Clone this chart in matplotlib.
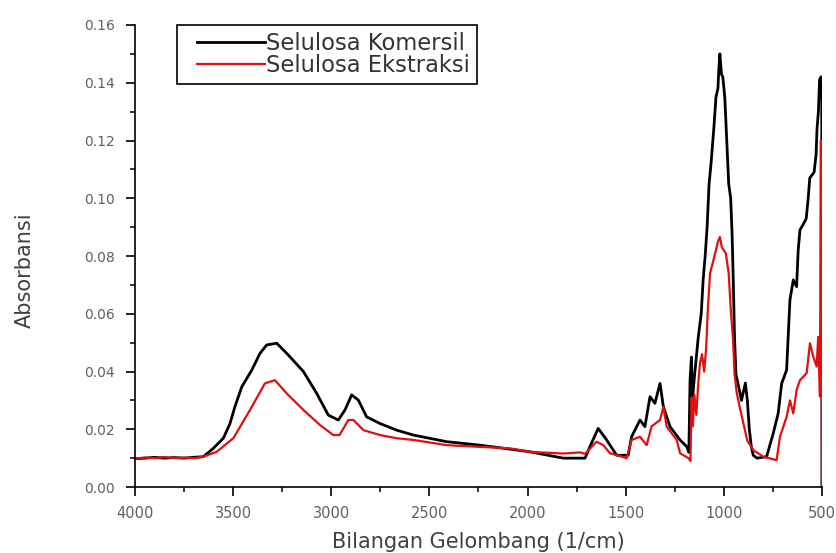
import numpy as np
from matplotlib import pyplot as plt
from matplotlib.ticker import MultipleLocator, FormatStrFormatter
from matplotlib.legend_handler import HandlerLine2D

plt.rcParams['font.family'] = ['DejaVu Sans']

# Selulosa Komersil (wavenumber 1/cm, absorbance)
wn_kom = [4000, 3950, 3900, 3850, 3800, 3750, 3700, 3652, 3601, 3550, 3516, 3491,
          3456, 3405, 3363, 3329, 3278, 3227, 3142, 3074, 3015, 2964, 2930, 2896,
          2862, 2820, 2752, 2667, 2582, 2412, 2242, 1988, 1818, 1707, 1682, 1640,
          1597, 1546, 1487, 1470, 1427, 1402, 1376, 1351, 1325, 1308, 1274, 1223,
          1189, 1178, 1172, 1165, 1160, 1150, 1140, 1130, 1115, 1105, 1095, 1085,
          1075, 1065, 1050, 1040, 1030, 1025, 1020, 1012, 1005, 995, 985, 975, 965,
          958, 952, 945, 938, 925, 910, 900, 890, 880, 870, 860, 850, 831, 782, 748,
          723, 705, 680, 663, 646, 629, 621, 612, 595, 580, 570, 562, 540, 530, 525,
          518, 512, 505, 501, 500]
a_kom = [0.0098, 0.0100, 0.0103, 0.0100, 0.0102, 0.0100, 0.0103, 0.0105, 0.0134, 0.0169,
         0.0220, 0.0278, 0.0347, 0.0405, 0.0463, 0.0492, 0.0498, 0.0463, 0.0400, 0.0324,
         0.0249, 0.0232, 0.0267, 0.0319, 0.0301, 0.0243, 0.0220, 0.0197, 0.0180, 0.0157,
         0.0145, 0.0122, 0.0100, 0.0100, 0.0140, 0.0203, 0.0163, 0.0110, 0.0110, 0.0174,
         0.0232, 0.0209, 0.0313, 0.0290, 0.0359, 0.0278, 0.0209, 0.0163, 0.0140, 0.0120,
         0.0370, 0.0450, 0.0300, 0.0380, 0.0450, 0.0520, 0.0600, 0.0720, 0.0800, 0.0900,
         0.1050, 0.1120, 0.1250, 0.1350, 0.1380, 0.1450, 0.1500, 0.1430, 0.1420, 0.1350,
         0.1200, 0.1050, 0.1000, 0.0880, 0.0720, 0.0510, 0.0390, 0.0350, 0.0300, 0.0330,
         0.0360, 0.0300, 0.0200, 0.0140, 0.0110, 0.0100, 0.0105, 0.0186, 0.0255, 0.0359,
         0.0405, 0.0648, 0.0717, 0.0694, 0.0820, 0.0890, 0.0910, 0.0930, 0.1000, 0.1070,
         0.1090, 0.1150, 0.1240, 0.1300, 0.1410, 0.1420, 0.1420, 0.0000]

# Selulosa Ekstraksi (wavenumber 1/cm, absorbance)
wn_eks = [4000, 3950, 3900, 3850, 3800, 3750, 3700, 3652, 3584, 3499, 3414, 3338,
          3287, 3227, 3142, 3058, 2990, 2958, 2913, 2887, 2836, 2752, 2667, 2582,
          2412, 2242, 2090, 1988, 1818, 1733, 1707, 1648, 1614, 1580, 1495, 1470,
          1427, 1393, 1368, 1325, 1308, 1291, 1240, 1223, 1180, 1170, 1164, 1158,
          1150, 1140, 1130, 1121, 1111, 1100, 1090, 1081, 1070, 1055, 1040, 1030,
          1020, 1010, 1000, 990, 975, 965, 953, 945, 935, 920, 900, 880, 860, 850,
          799, 731, 714, 680, 663, 646, 629, 612, 578, 561, 544, 527, 519, 510, 506,
          501, 500]
a_eks = [0.0098, 0.0102, 0.0100, 0.0104, 0.0100, 0.0102, 0.0100, 0.0105, 0.0122, 0.0169,
         0.0267, 0.0359, 0.0370, 0.0324, 0.0267, 0.0215, 0.0180, 0.0180, 0.0232, 0.0232,
         0.0197, 0.0180, 0.0169, 0.0163, 0.0145, 0.0139, 0.0134, 0.0122, 0.0116, 0.0120,
         0.0115, 0.0157, 0.0145, 0.0117, 0.0100, 0.0163, 0.0174, 0.0145, 0.0210, 0.0232,
         0.0278, 0.0209, 0.0163, 0.0117, 0.0100, 0.0090, 0.0310, 0.0210, 0.0320, 0.0250,
         0.0360, 0.0430, 0.0460, 0.0400, 0.0480, 0.0620, 0.0740, 0.0780, 0.0820, 0.0850,
         0.0866, 0.0830, 0.0820, 0.0810, 0.0740, 0.0620, 0.0510, 0.0390, 0.0330, 0.0280,
         0.0220, 0.0160, 0.0140, 0.0128, 0.0105, 0.0093, 0.0174, 0.0243, 0.0300, 0.0255,
         0.0336, 0.0370, 0.0394, 0.0498, 0.0451, 0.0417, 0.0520, 0.0313, 0.1200, 0.1200,
         0.0000]

fig = plt.figure(figsize=(8.37, 5.53), dpi=100)
ax = fig.add_axes([0.1613, 0.1193, 0.8207, 0.8355])

ax.plot(wn_kom, a_kom, color='black', lw=2.0, label='Selulosa Komersil')
ax.plot(wn_eks, a_eks, color='#e01010', lw=1.6, label='Selulosa Ekstraksi')

ax.set_xlim(4000, 500)
ax.set_ylim(0, 0.16)

ax.spines['top'].set_visible(False)
ax.spines['right'].set_visible(False)
ax.spines['left'].set_linewidth(1.2)
ax.spines['bottom'].set_linewidth(1.2)

ax.xaxis.set_major_locator(MultipleLocator(500))
ax.xaxis.set_minor_locator(MultipleLocator(250))
ax.yaxis.set_major_locator(MultipleLocator(0.02))
ax.yaxis.set_minor_locator(MultipleLocator(0.01))
ax.yaxis.set_major_formatter(FormatStrFormatter('%.2f'))
ax.tick_params(which='major', direction='out', length=6.5, width=1.2,
               labelsize=10, labelcolor='#606060')
ax.tick_params(axis='y', which='major', pad=8)
ax.tick_params(axis='x', which='major', pad=7, labelsize=10.5)
ax.tick_params(which='minor', direction='out', length=3.5, width=1.1)

ax.set_xlabel('Bilangan Gelombang (1/cm)', fontsize=15, color='#404040', labelpad=8)
ax.set_ylabel('Absorbansi', fontsize=15, color='#404040')
ax.yaxis.set_label_coords(-0.146, 0.47)

leg = ax.legend(loc='upper left', bbox_to_anchor=(0.061, 1.0), borderaxespad=0,
                fontsize=16.3, handlelength=3.6, handletextpad=0.05, borderpad=0.3,
                labelspacing=-0.02, fancybox=False, framealpha=1,
                handler_map={plt.Line2D: HandlerLine2D(xpad=0.6)})
leg.get_frame().set_edgecolor('black')
leg.get_frame().set_linewidth(1.2)
for t in leg.get_texts():
    t.set_color('#333333')

fig.savefig('out.png', dpi=100)
